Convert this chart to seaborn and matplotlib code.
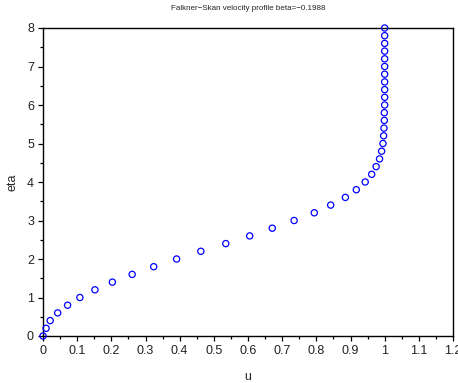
import numpy as np
import pandas as pd
import seaborn as sns
import matplotlib.pyplot as plt
from matplotlib.ticker import MultipleLocator

eta = [0.0, 0.2, 0.4, 0.6, 0.8, 1.0, 1.2, 1.4, 1.6, 1.8, 2.0, 2.2, 2.4, 2.6, 2.8,
       3.0, 3.2, 3.4, 3.6, 3.8, 4.0, 4.2, 4.4, 4.6, 4.8, 5.0, 5.2, 5.4, 5.6, 5.8,
       6.0, 6.2, 6.4, 6.6, 6.8, 7.0, 7.2, 7.4, 7.6, 7.8, 8.0]
u = [0.0, 0.009, 0.021, 0.043, 0.072, 0.108, 0.152, 0.203, 0.261, 0.324, 0.391,
     0.462, 0.535, 0.605, 0.671, 0.735, 0.794, 0.842, 0.885, 0.917, 0.943, 0.962,
     0.975, 0.985, 0.991, 0.995, 0.997, 0.998, 0.999, 0.999, 1.0, 1.0, 1.0, 1.0,
     1.0, 1.0, 1.0, 1.0, 1.0, 1.0, 1.0]

df = pd.DataFrame({"u": u, "eta": eta})

sns.set_style("white")
plt.rcParams['font.family'] = ['Liberation Sans', 'DejaVu Sans']

fig = plt.figure(figsize=(4.58, 3.83), dpi=100)
ax = fig.add_axes([43 / 458, 1 - 336 / 383, 410 / 458, 308 / 383])

sns.scatterplot(data=df, x="u", y="eta", ax=ax, marker="o", s=20,
                facecolors="none", edgecolor="blue", linewidth=0.9, clip_on=False, zorder=3)

ax.set_xlim(0, 1.2)
ax.set_ylim(0, 8)
ax.xaxis.set_major_locator(MultipleLocator(0.1))
ax.xaxis.set_minor_locator(MultipleLocator(0.05))
ax.yaxis.set_major_locator(MultipleLocator(1))
ax.yaxis.set_minor_locator(MultipleLocator(0.5))
ax.xaxis.set_major_formatter(plt.FuncFormatter(lambda v, p: f"{v:g}"))
ax.tick_params(which="both", direction="out", bottom=True, left=True, top=False, right=False,
               labelsize=9, color="black", labelcolor="#222222")
ax.tick_params(which="major", length=3.5, width=0.9, pad=3)
ax.tick_params(which="minor", length=2, width=0.9)

for sp in ax.spines.values():
    sp.set_color("black")
    sp.set_linewidth(1.0)

ax.set_xlabel("u", fontsize=9, labelpad=10)
ax.set_ylabel("eta", fontsize=9, labelpad=6)
ax.set_title("Falkner\u2212Skan velocity profile beta=\u22120.1988", fontsize=5.8, pad=13)

fig.savefig("out.png", dpi=100)
